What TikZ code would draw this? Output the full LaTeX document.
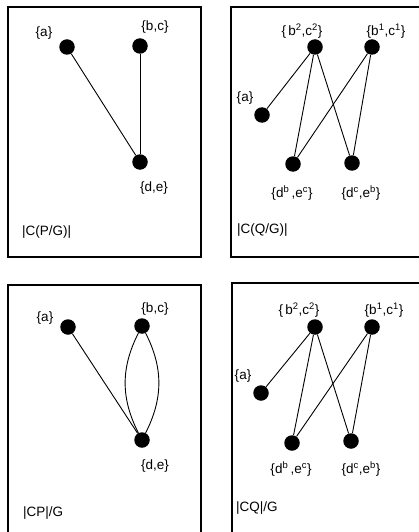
\documentclass[tikz,border=0pt]{standalone}
\usepackage{fontspec}
\setmainfont{Liberation Sans}
\begin{document}
\begin{tikzpicture}[x=1pt,y=-1pt,
  dot/.style={circle,fill=black,inner sep=0pt,minimum size=15.5pt},
  lbl/.style={inner sep=0pt,font=\fontsize{13.5}{15}\selectfont},
  edge/.style={line width=0.9pt},
  panel/.style={line width=1.1pt}]
\useasboundingbox (0,0) rectangle (419,532);
\clip (0,0) rectangle (419,532);
% panels
\draw[panel] (8,7) rectangle (201,257);
\draw[panel] (431,7) -- (231,7) -- (231,257) -- (431,257);
\draw[panel] (8,545) -- (8,285) -- (201,285) -- (201,545);
\draw[panel] (431,283) -- (232,283) -- (232,545);
% ---------- panel 1
\node[dot] (a1) at (67,47) {};
\node[dot] (bc1) at (140,46) {};
\node[dot] (de1) at (140,162) {};
\node[lbl] (la1) at (44,33) {\{a\}};
\node[lbl] (lbc1) at (155,27) {\{b,c\}};
\node[lbl] (lde1) at (154,188) {\{d,e\}};
\node[lbl,anchor=west] (t1) at (22,232) {|C(P/G)|};
\draw[edge] (a1) -- (de1);
\draw[edge] (bc1) -- (de1);
% ---------- panel 2
\node[dot] (bb2) at (315,47) {};
\node[dot] (b12) at (372,47) {};
\node[dot] (a2) at (262,115) {};
\node[dot] (dbe2) at (293,164) {};
\node[dot] (dce2) at (352,163) {};
\node[lbl] (lbb2) at (302,31) {\{\,b\textsuperscript{2},c\textsuperscript{2}\}};
\node[lbl] (lb12) at (386,31) {\{b\textsuperscript{1},c\textsuperscript{1}\}};
\node[lbl] (la2) at (245,98) {\{a\}};
\node[lbl] (ldbe2) at (292,193) {\{d\textsuperscript{b}\,,e\textsuperscript{c}\}};
\node[lbl] (ldce2) at (361,193) {\{d\textsuperscript{c},e\textsuperscript{b}\}};
\node[lbl,anchor=west] (t2) at (237,230) {|C(Q/G)|};
\draw[edge] (bb2) -- (a2);
\draw[edge] (bb2) -- (dbe2);
\draw[edge] (bb2) -- (dce2);
\draw[edge] (b12) -- (dbe2);
\draw[edge] (b12) -- (dce2);
% ---------- panel 3
\node[dot] (a3) at (68,327) {};
\node[dot] (bc3) at (142,326) {};
\node[dot] (de3) at (142,440) {};
\node[lbl] (la3) at (45,318) {\{a\}};
\node[lbl] (lbc3) at (155,309) {\{b,c\}};
\node[lbl] (lde3) at (155,466) {\{d,e\}};
\node[lbl,anchor=west] (t3) at (23,513) {|CP|/G};
\draw[edge] (a3) -- (de3);
\draw[edge] (bc3) to[bend right=27] (de3);
\draw[edge] (bc3) to[bend left=27] (de3);
% ---------- panel 4
\node[dot] (bb4) at (315,327) {};
\node[dot] (b14) at (372,327) {};
\node[dot] (a4) at (261,393) {};
\node[dot] (dbe4) at (292,443) {};
\node[dot] (dce4) at (351,441) {};
\node[lbl] (lbb4) at (299,310) {\{\,b\textsuperscript{2},c\textsuperscript{2}\}};
\node[lbl] (lb14) at (384,310) {\{b\textsuperscript{1},c\textsuperscript{1}\}};
\node[lbl] (la4) at (243,376) {\{a\}};
\node[lbl] (ldbe4) at (291,469) {\{d\textsuperscript{b}\,,e\textsuperscript{c}\}};
\node[lbl] (ldce4) at (361,469) {\{d\textsuperscript{c},e\textsuperscript{b}\}};
\node[lbl,anchor=west] (t4) at (236,508) {|CQ|/G};
\draw[edge] (bb4) -- (a4);
\draw[edge] (bb4) -- (dbe4);
\draw[edge] (bb4) -- (dce4);
\draw[edge] (b14) -- (dbe4);
\draw[edge] (b14) -- (dce4);
\end{tikzpicture}
\end{document}
